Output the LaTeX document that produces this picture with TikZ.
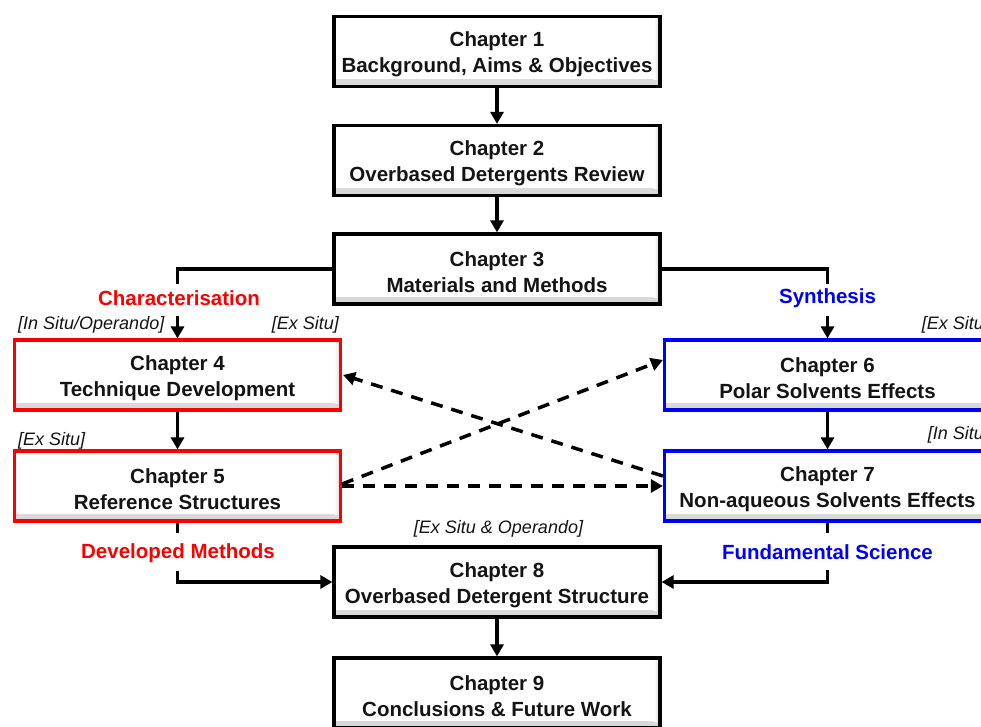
\documentclass[tikz,border=0pt]{standalone}
\usepackage{fontspec}
\setmainfont{Liberation Sans}
\usetikzlibrary{arrows.meta}
\definecolor{chred}{RGB}{250,0,0}
\definecolor{chblue}{RGB}{0,0,250}
\definecolor{inkgray}{RGB}{20,20,20}
% two-line chapter caption, with a tall strut to sit the text a little lower
\newcommand\chaptertext[2]{\rule{0pt}{21pt}Chapter #1\\#2}
\tikzset{
  chbox/.style={draw=black, line width=3.2pt, fill=white,
    minimum width=326pt, minimum height=70pt, inner sep=0pt,
    align=center, text=inkgray,
    font=\fontsize{20.5}{26}\selectfont\bfseries,
    path picture={
      \shade[top color=white, bottom color=black!16]
        ([yshift=7pt]path picture bounding box.south west)
        rectangle (path picture bounding box.south east);
      \shade[left color=white, right color=black!16]
        ([xshift=-6pt,yshift=-2pt]path picture bounding box.north east)
        rectangle ([yshift=7pt]path picture bounding box.south east);
    }},
  redbox/.style={chbox, draw=chred},
  bluebox/.style={chbox, draw=chblue},
  plain/.style={line width=3.5pt},
  flow/.style={line width=3.5pt, -{Triangle[width=13pt,length=12pt]}},
  cross/.style={line width=3.5pt, dash pattern=on 12pt off 9pt,
    -{Triangle[width=13pt,length=12pt]}},
  tag/.style={font=\fontsize{18}{20}\selectfont\itshape, inner sep=0pt, text=inkgray},
  head/.style={font=\fontsize{20.5}{24}\selectfont\bfseries, inner sep=0pt}
}
\begin{document}
\begin{tikzpicture}[x=1pt, y=-1pt]
  \useasboundingbox (0,0) rectangle (981,727);
  \clip (0,0) rectangle (981,727);

  % chapter boxes
  \node[chbox]   (b1) at (497,51.5)  {\chaptertext{1}{Background, Aims \& Objectives}};
  \node[chbox]   (b2) at (497,160.5) {\chaptertext{2}{Overbased Detergents Review}};
  \node[chbox]   (b3) at (497,269)   {\chaptertext{3}{Materials and Methods}};
  \node[redbox]  (b4) at (177.5,375) {\chaptertext{4}{Technique Development}};
  \node[redbox]  (b5) at (177.5,486) {\chaptertext{5}{Reference Structures}};
  \node[bluebox] (b6) at (827.5,375) {\chaptertext{6}{Polar Solvents Effects}};
  \node[bluebox] (b7) at (827.5,486) {\chaptertext{7}{Non-aqueous Solvents Effects}};
  \node[chbox]   (b8) at (497,582)   {\chaptertext{8}{Overbased Detergent Structure}};
  \node[chbox]   (b9) at (497,693)   {\chaptertext{9}{Conclusions \& Future Work}};

  % branch headings
  \node[head, text=chred]  (hchar)  at (179,298)   {Characterisation};
  \node[head, text=chblue] (hsyn)   at (827.5,298) {Synthesis};
  \node[head, text=chred]  (hdev)   at (178,553)   {Developed Methods};
  \node[head, text=chblue] (hfund)  at (827.5,552) {Fundamental Science};

  % technique tags
  \node[tag, anchor=west] (t1) at (18,325)  {[In Situ/Operando]};
  \node[tag, anchor=east] (t2) at (339,325) {[Ex Situ]};
  \node[tag, anchor=west] (t3) at (18,441)  {[Ex Situ]};
  \node[tag, anchor=east] (t4) at (989,325) {[Ex Situ]};
  \node[tag, anchor=east] (t5) at (989,435) {[In Situ]};
  \node[tag]              (t6) at (498.5,529) {[Ex Situ \& Operando]};

  % junction points
  \coordinate (lsplit) at (177.5,284);
  \coordinate (lin)    at (177.5,316);
  \coordinate (rsplit) at (827.5,284);
  \coordinate (rin)    at (827.5,316);
  \coordinate (lout)   at (177.5,533);
  \coordinate (ljoin)  at (177.5,571);
  \coordinate (rout)   at (827.5,533);
  \coordinate (rjoin)  at (827.5,570);

  % main sequence
  \draw[flow] (b1) -- (b2);
  \draw[flow] (b2) -- (b3);
  \draw[plain] (b3.west) -| (lsplit);
  \draw[plain] (b3.east) -| (rsplit);
  \draw[flow] (lin) -- (b4);
  \draw[flow] (rin) -- (b6);
  \draw[flow] (b4) -- (b5);
  \draw[flow] (b6) -- (b7);
  \draw[plain] (b5) -- (lout);
  \draw[plain] (b7) -- (rout);
  \draw[flow] (ljoin) |- (b8.west);
  \draw[flow] (rjoin) |- (b8.east);
  \draw[flow] (b8) -- (b9);

  % cross links
  \draw[cross] ([yshift=10pt]b7.west) -- ([xshift=1pt]b4.east);
  \draw[cross] ([yshift=2pt]b5.east) -- ([yshift=15pt]b6.west);
  \draw[cross] (b5.east) -- (b7.west);
\end{tikzpicture}
\end{document}
